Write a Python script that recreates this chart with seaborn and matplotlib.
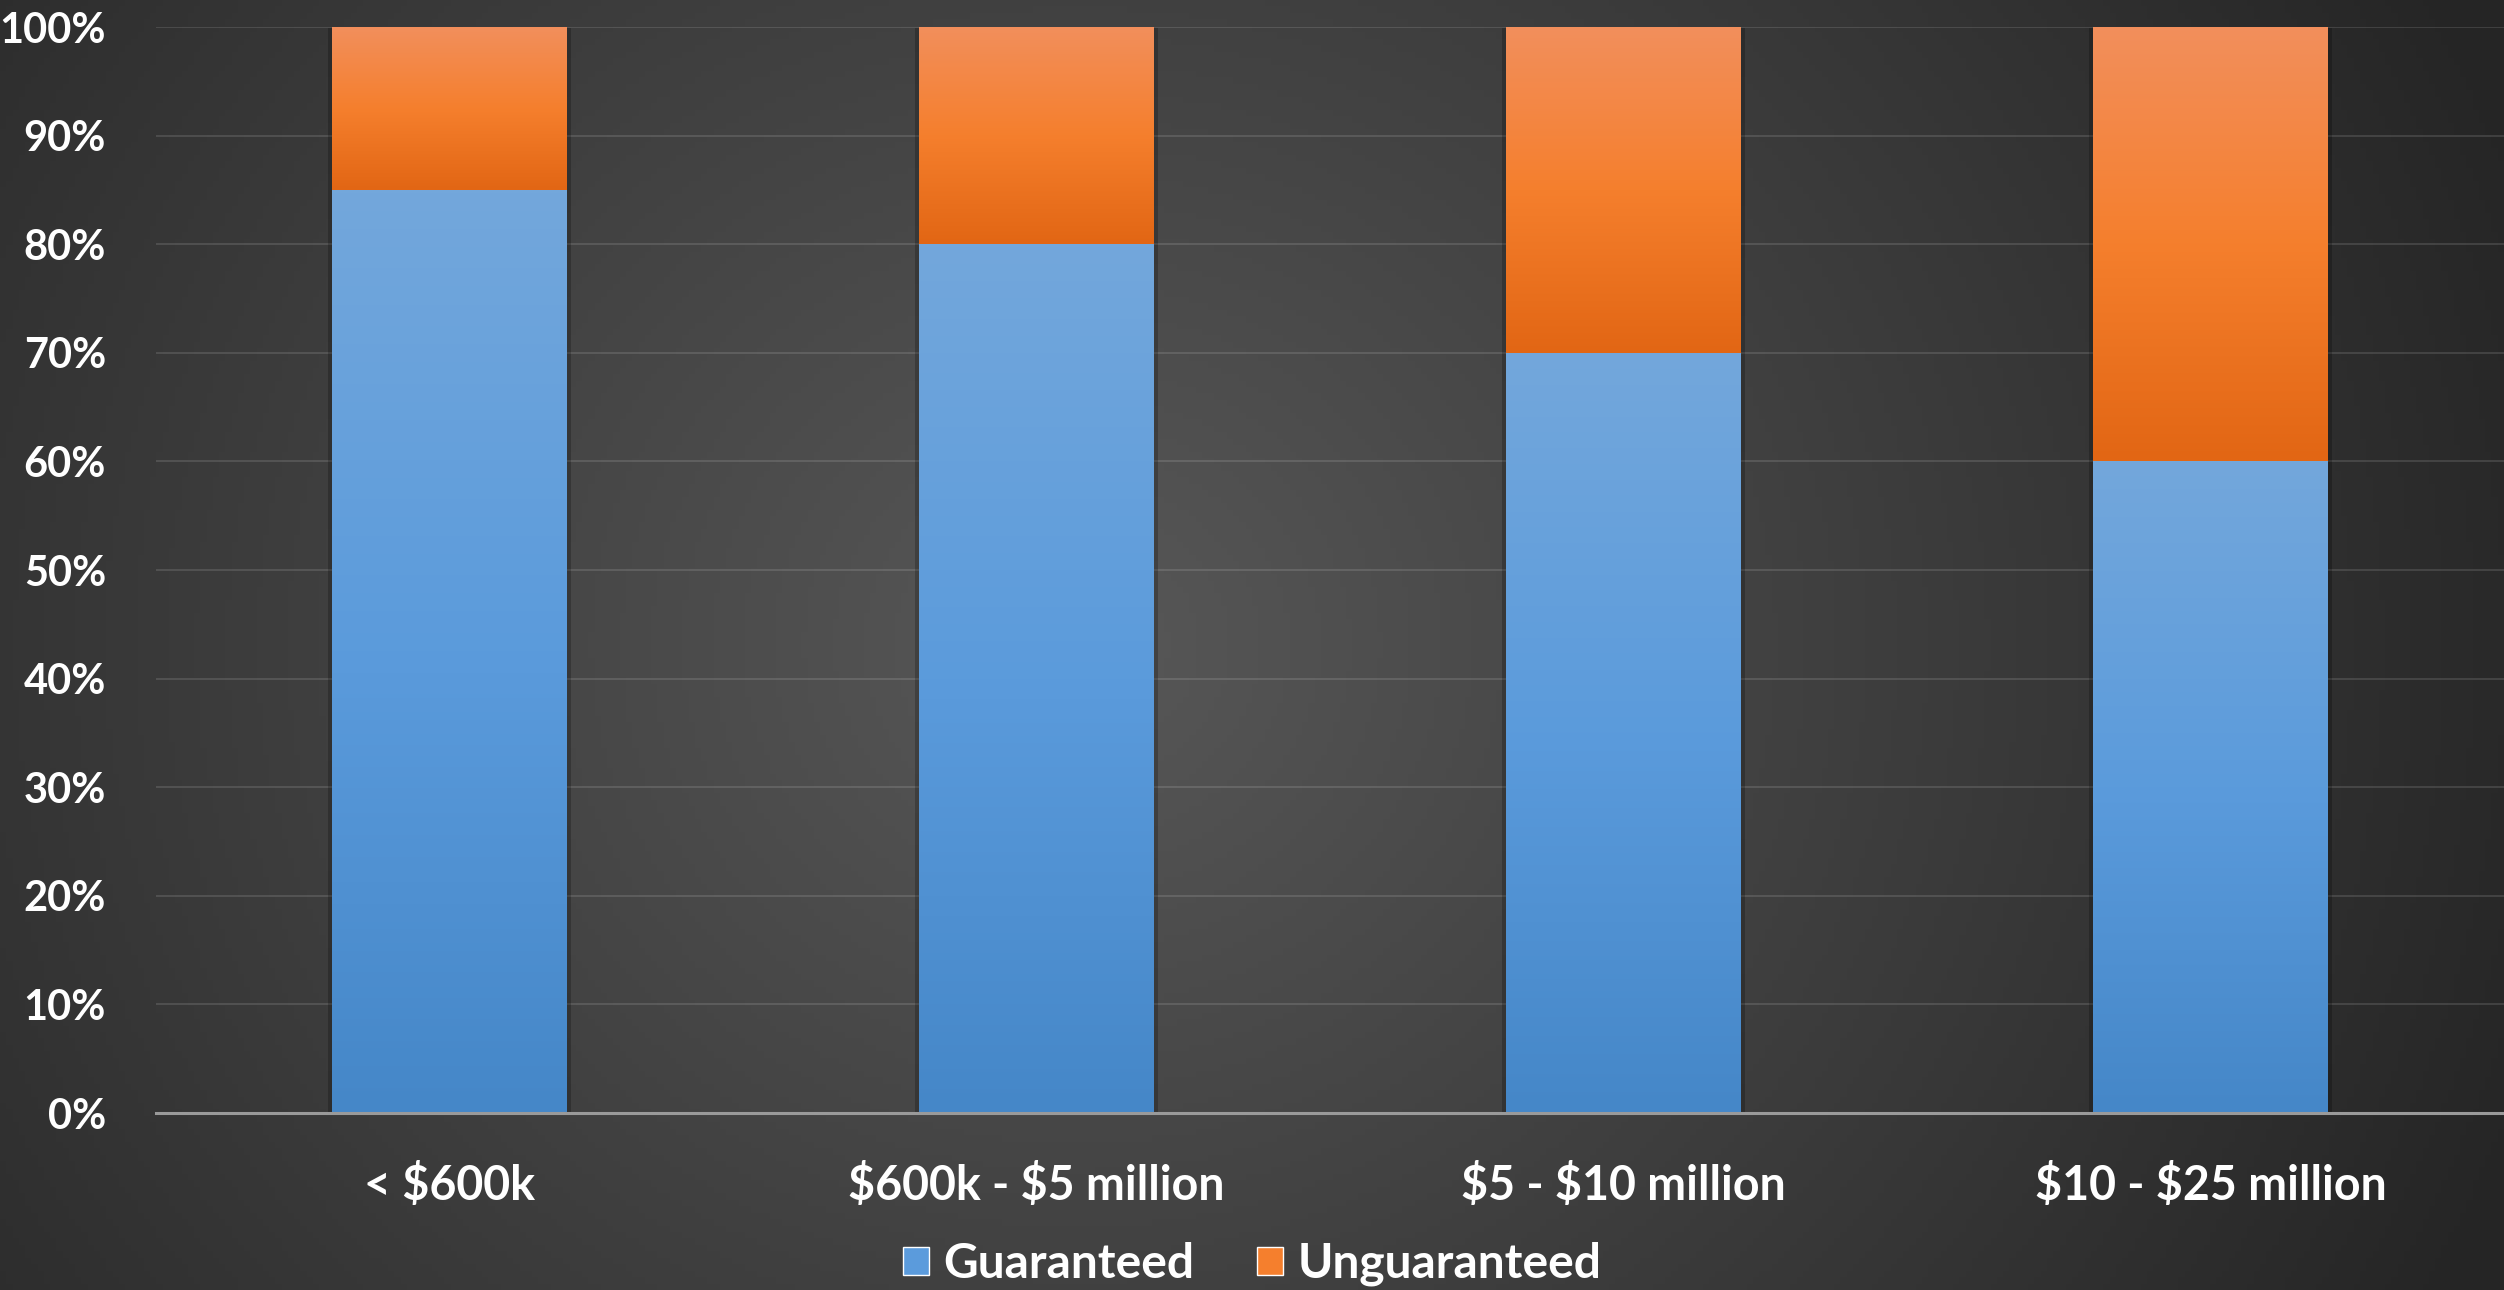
import numpy as np
import pandas as pd
import matplotlib
matplotlib.use("Agg")
import matplotlib.pyplot as plt
import seaborn as sns
from matplotlib.colors import LinearSegmentedColormap
from matplotlib.patches import Rectangle
import matplotlib.patheffects as pe

# --- DATA ---
categories = ["< $600k", "$600k - $5 million", "$5 - $10 million", "$10 - $25 million"]
guaranteed = [85, 80, 70, 60]
unguaranteed = [15, 20, 30, 40]
y_ticks = [0, 10, 20, 30, 40, 50, 60, 70, 80, 90, 100]
y_tick_labels = [f"{t}%" for t in y_ticks]

# --- STYLE ---
sns.set_theme(style="dark")
plt.rcParams['font.family'] = ['Lato', 'DejaVu Sans']
plt.rcParams['font.weight'] = 'bold'
plt.rcParams['text.parse_math'] = False  # keep the $ signs literal

BLUE_CMAP = LinearSegmentedColormap.from_list("blue", ["#4587c8", "#5b9bdc", "#73a7db"])
ORANGE_CMAP = LinearSegmentedColormap.from_list("orange", ["#e26614", "#f57f2d", "#f28f5c"])

fig = plt.figure(figsize=(25.04, 12.90), dpi=100)

# background gradient (dark, lighter in the middle)
bg_ax = fig.add_axes([0, 0, 1, 1], zorder=-10)
gx, gy = np.meshgrid(np.linspace(0, 1, 400), np.linspace(0, 1, 200))
r = np.sqrt(((gx - 0.43) / 0.62) ** 2 + ((gy - 0.5) / 1.1) ** 2)
r = np.clip(r, 0, 1)
c_in = np.array([0x58, 0x58, 0x58]) / 255
c_out = np.array([0x25, 0x25, 0x25]) / 255
bg = c_in[None, None, :] * (1 - r[..., None]) + c_out[None, None, :] * r[..., None]
bg_ax.imshow(bg, aspect='auto', extent=[0, 1, 0, 1], origin='lower')
bg_ax.set_axis_off()

ax = fig.add_axes([0.0623, 0.1372, 0.9377, 0.8418])
ax.patch.set_alpha(0)

df = pd.DataFrame({
    "Category": categories,
    "Guaranteed": guaranteed,
    "Unguaranteed": unguaranteed,
})
df["Total"] = df["Guaranteed"] + df["Unguaranteed"]

# stacked: total (orange) behind, guaranteed (blue) in front
sns.barplot(data=df, x="Category", y="Total", color="#f57f2d", width=0.4,
            saturation=1, linewidth=0, ax=ax, zorder=3)
n = len(categories)
sns.barplot(data=df, x="Category", y="Guaranteed", color="#5b9bdc", width=0.4,
            saturation=1, linewidth=0, ax=ax, zorder=4)

total_patches = ax.patches[:n]
blue_patches = ax.patches[n:2 * n]

grad = np.linspace(0, 1, 256).reshape(-1, 1)
for tp, bp in zip(total_patches, blue_patches):
    # soft-ish shadow on both sides of each bar
    tp.set_path_effects([pe.SimplePatchShadow(offset=(3, -1), shadow_rgbFace='black', alpha=0.22),
                         pe.SimplePatchShadow(offset=(-3, -1), shadow_rgbFace='black', alpha=0.22),
                         pe.Normal()])
    x0, w = bp.get_x(), bp.get_width()
    b_top = bp.get_height()
    t_top = tp.get_height()
    ax.imshow(grad, cmap=BLUE_CMAP, aspect='auto', origin='lower',
              extent=[x0, x0 + w, 0, b_top], zorder=5)
    ax.imshow(grad, cmap=ORANGE_CMAP, aspect='auto', origin='lower',
              extent=[x0, x0 + w, b_top, t_top], zorder=5)

ax.set_xlim(-0.5, n - 0.5)
ax.set_ylim(0, 100)
ax.set_yticks(y_ticks)
ax.set_yticklabels(y_tick_labels, fontweight='bold')
ax.set_xticks(range(n))
ax.set_xticklabels(categories, fontweight='bold')
ax.set_xlabel("")
ax.set_ylabel("")

ax.grid(axis='y', color='#ffffff', alpha=0.12, linewidth=1.5, zorder=1)
ax.grid(axis='x', visible=False)
ax.set_axisbelow(True)
for s in ["top", "right", "left"]:
    ax.spines[s].set_visible(False)
ax.spines["bottom"].set_color("#9a9a9a")
ax.spines["bottom"].set_linewidth(2.2)
ax.spines["bottom"].set_zorder(6)

ax.tick_params(axis='y', colors='white', labelsize=30, pad=36, length=0)
ax.tick_params(axis='x', colors='white', labelsize=33.5, pad=36, length=0)

handles = [Rectangle((0, 0), 1, 1, facecolor="#5b9bdc"),
           Rectangle((0, 0), 1, 1, facecolor="#f57f2d")]
leg = fig.legend(handles, ["Guaranteed", "Unguaranteed"], loc='center',
                 bbox_to_anchor=(0.5, 0.02), ncol=2, frameon=False,
                 prop={'weight': 'bold', 'size': 34.5},
                 handlelength=0.55, handleheight=0.55,
                 handletextpad=0.3, columnspacing=1.3)
for t in leg.get_texts():
    t.set_color('white')

fig.savefig("out.png", dpi=100)
